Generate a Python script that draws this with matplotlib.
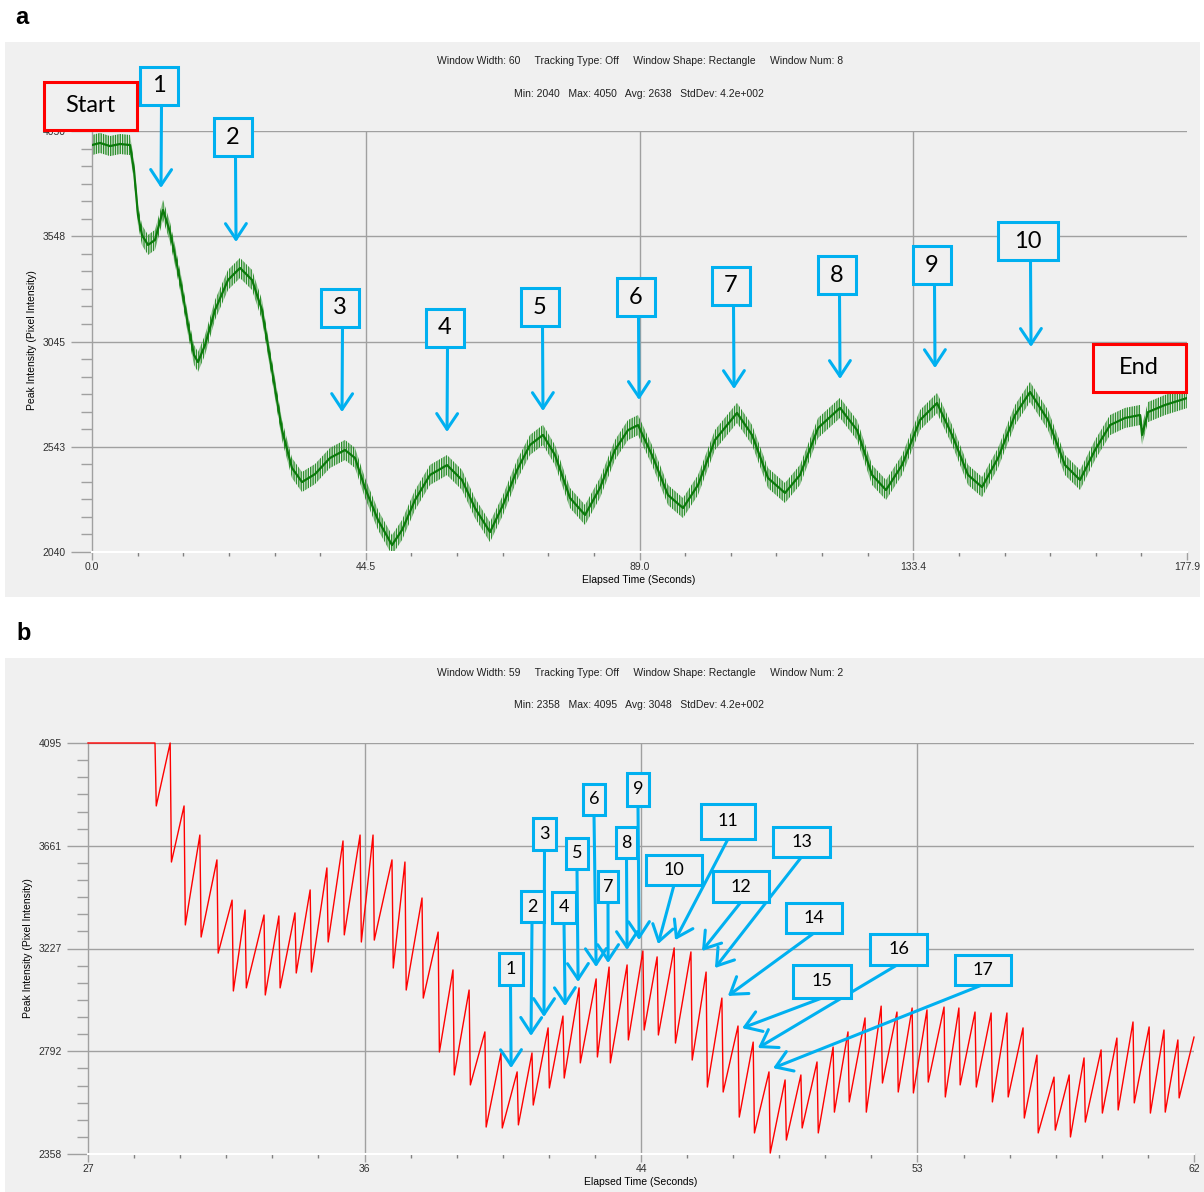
import matplotlib.pyplot as plt
from matplotlib.patches import Rectangle
from matplotlib.ticker import AutoMinorLocator

plt.rcParams['font.family'] = ['Liberation Sans', 'DejaVu Sans']

W, H = 1204, 1192
BG = '#f0f0f0'
GRID = '#a0a0a0'
BLUE = '#00b0f0'

# ---- panel a : green trace (centre of the noisy band) ----
green_t = [0.0, 1.30, 2.92, 4.55, 6.17, 6.82, 7.47, 8.12, 9.10, 10.24, 11.54, 12.67,
           13.65, 14.62, 15.60, 16.57, 17.22, 18.36, 19.98, 22.10, 24.05, 26.00, 27.62,
           29.24, 30.87, 32.49, 34.12, 36.23, 38.67, 41.10, 42.73, 44.35, 46.47, 48.74,
           50.37, 52.48, 54.92, 57.68, 60.11, 62.22, 64.66, 66.77, 69.05, 71.16, 73.27,
           75.22, 77.66, 80.10, 82.53, 84.97, 87.08, 88.71, 90.98, 93.58, 96.02, 98.46,
           101.22, 104.79, 107.23, 109.83, 112.59, 115.03, 117.96, 121.53, 124.29, 126.73,
           129.00, 131.60, 134.53, 137.29, 139.73, 142.32, 144.60, 147.20, 149.96, 152.40,
           155.32, 158.08, 160.52, 162.96, 165.40, 167.83, 170.27, 170.60, 171.57, 174.33,
           177.90]
green_v = [3983, 3993, 3978, 3988, 3983, 3864, 3649, 3553, 3506, 3530, 3673, 3568,
           3434, 3291, 3124, 2981, 2947, 3028, 3195, 3339, 3396, 3339, 3195,
           2909, 2622, 2441, 2374, 2412, 2489, 2527, 2489, 2346, 2193, 2073,
           2145, 2288, 2408, 2455, 2384, 2250, 2135, 2264, 2431, 2551, 2599,
           2503, 2298, 2217, 2346, 2527, 2622, 2646, 2503, 2312, 2250, 2360,
           2575, 2704, 2599, 2393, 2322, 2408, 2632, 2728, 2622, 2408,
           2336, 2455, 2670, 2751, 2599, 2408, 2350, 2489, 2694, 2804,
           2670, 2455, 2384, 2527, 2646, 2680, 2694, 2599, 2708, 2742,
           2775]
green_noise = 48  # half height of the noise band (intensity units)

a_xticks = [0, 44.475, 88.95, 133.425, 177.9]
a_xlabels = ['0.0', '44.5', '89.0', '133.4', '177.9']
a_yticks = [2040, 2542.5, 3045, 3547.5, 4050]
a_ylabels = ['2040', '2543', '3045', '3548', '4050']

# callouts a: label, arrow tip (time, intensity)
a_labels = ['1', '2', '3', '4', '5', '6', '7', '8', '9', '10']
a_tips_t = [11.21, 23.40, 40.62, 57.68, 73.27, 88.87, 104.31, 121.53, 136.96, 152.56]
a_tips_v = [3778, 3520, 2708, 2613, 2713, 2766, 2818, 2866, 2918, 3019]

# ---- panel b : red sawtooth (peak time, peak value, value right after the drop) ----
red_peak_t = [29.02, 29.50, 29.94, 30.44, 30.98, 31.46, 31.87, 32.47, 32.94, 33.45,
              33.93, 34.46, 34.97, 35.51, 35.92, 36.52, 36.93, 37.47, 37.98, 38.45,
              38.96, 39.46, 39.97, 40.48, 40.95, 41.46, 41.93, 42.44, 42.98, 43.39,
              43.96, 44.46, 44.91, 45.45, 45.98, 46.46, 46.96, 47.47, 47.95, 48.45,
              48.96, 49.46, 49.97, 50.48, 50.95, 51.49, 52.00, 52.50, 52.98, 53.45,
              53.99, 54.46, 54.97, 55.48, 55.98, 56.49, 56.93, 57.47, 57.95, 58.42,
              58.96, 59.46, 59.97, 60.48, 60.95, 61.39]
red_peak_v = [4095, 4095, 3829, 3706, 3601, 3431, 3389, 3368, 3364, 3377,
              3474, 3567, 3681, 3706, 3706, 3601, 3592, 3440, 3296, 3136,
              3051, 2874, 2785, 2705, 2785, 2891, 2941, 3060, 3098, 3148,
              3157, 3216, 3191, 3229, 3212, 3127, 3017, 2899, 2831, 2705,
              2671, 2692, 2747, 2810, 2874, 2933, 2983, 2958, 2975, 2967,
              2979, 2975, 2958, 2954, 2954, 2891, 2776, 2683, 2692, 2764,
              2798, 2848, 2916, 2895, 2882, 2840]
red_trough_v = [3829, 3592, 3326, 3275, 3207, 3047, 3060, 3030, 3060, 3123,
                3127, 3254, 3284, 3254, 3262, 3144, 3051, 3017, 2789, 2692,
                2650, 2472, 2468, 2481, 2565, 2637, 2679, 2743, 2768, 2743,
                2840, 2882, 2861, 2827, 2755, 2641, 2620, 2514, 2447, 2362,
                2417, 2468, 2447, 2535, 2578, 2535, 2658, 2620, 2616, 2662,
                2599, 2650, 2641, 2578, 2599, 2510, 2447, 2459, 2430, 2493,
                2531, 2544, 2574, 2531, 2535, 2595]
red_start = (26.9, 4095)
red_end = (61.9, 2852)

b_xticks = [26.9, 35.65, 44.4, 53.15, 61.9]
b_xlabels = ['27', '36', '44', '53', '62']
b_yticks = [2358, 2792.25, 3226.5, 3660.75, 4095]
b_ylabels = ['2358', '2792', '3227', '3661', '4095']

b_labels = [str(i) for i in range(1, 18)]
b_tips_t = [40.29, 40.92, 41.33, 42.00, 42.41, 42.98, 43.36, 43.96, 44.34,
            44.94, 45.48, 46.33, 46.74, 47.15, 47.60, 48.10, 48.58]
b_tips_v = [2721, 2857, 2937, 2983, 3085, 3148, 3165, 3220, 3262,
            3245, 3262, 3216, 3144, 3026, 2890, 2806, 2721]

fig = plt.figure(figsize=(W / 100, H / 100), dpi=100)


def px(x, y):
    return x / W, 1 - y / H


# grey panels
fig.add_artist(Rectangle(px(5, 597), 1195 / W, 555 / H, transform=fig.transFigure,
                         fc=BG, ec='none', zorder=-5))
fig.add_artist(Rectangle(px(5, 1192), 1199 / W, 534 / H, transform=fig.transFigure,
                         fc=BG, ec='none', zorder=-5))
fig.text(*px(22, 18), 'a', fontsize=17, fontweight='bold', ha='center', va='center')
fig.text(*px(24, 634), 'b', fontsize=17, fontweight='bold', ha='center', va='center')


def style_axes(ax, xt, xl, yt, yl):
    ax.set_facecolor(BG)
    ax.set_xticks(xt)
    ax.set_xticklabels(xl)
    ax.set_yticks(yt)
    ax.set_yticklabels(yl)
    ax.set_xlim(xt[0], xt[-1])
    ax.set_ylim(yt[0], yt[-1])
    ax.xaxis.set_minor_locator(AutoMinorLocator(6))
    ax.yaxis.set_minor_locator(AutoMinorLocator(6))
    for s in ['top', 'right']:
        ax.spines[s].set_visible(False)
    ax.spines['left'].set_color(GRID)
    ax.spines['left'].set_linewidth(1)
    ax.spines['bottom'].set_color('white')
    ax.spines['bottom'].set_linewidth(1.5)
    ax.tick_params(axis='y', which='major', length=15, width=1, color=GRID, pad=4,
                   labelsize=7.5, labelcolor='#303030')
    ax.tick_params(axis='y', which='minor', length=8, width=1, color=GRID)
    ax.tick_params(axis='x', which='major', length=6, width=1, color=GRID, pad=1.5,
                   labelsize=7.5, labelcolor='#303030')
    ax.tick_params(axis='x', which='minor', length=3, width=1, color='#808080')
    for y in yt[1:]:
        ax.axhline(y, color=GRID, lw=1, zorder=1)
    for x in xt[1:-1]:
        ax.axvline(x, color=GRID, lw=1, zorder=1)


def callout(ax, label, box, tip, start=None, color=BLUE, fs=17, lw=2.2):
    cx, cy, bw, bh = box
    fig.add_artist(Rectangle(px(cx - bw / 2, cy + bh / 2), bw / W, bh / H,
                             transform=fig.transFigure, fc=BG, ec=color, lw=lw, zorder=6))
    fig.text(*px(cx, cy), label, ha='center', va='center', fontsize=fs,
             family=['Lato', 'DejaVu Sans'], zorder=7)
    if tip is None:
        return
    if start is None:
        start = (cx, cy + bh / 2)
    ax.annotate('', xy=tip, xycoords='data', xytext=px(*start),
                textcoords='figure fraction', annotation_clip=False,
                arrowprops=dict(arrowstyle='->,head_length=0.45,head_width=0.3',
                                mutation_scale=25, color=color, lw=lw,
                                shrinkA=0, shrinkB=0))


# ---------------- panel a ----------------
axa = fig.add_axes([92 / W, 1 - 552 / H, (1187 - 92) / W, (552 - 131) / H])
style_axes(axa, a_xticks, a_xlabels, a_yticks, a_ylabels)
lo = [v - green_noise for v in green_v]
hi = [v + green_noise for v in green_v]
axa.fill_between(green_t, lo, hi, facecolor='none', edgecolor='#2c8f2c',
                 hatch='|||||||', linewidth=0, zorder=2)
axa.plot(green_t, green_v, color='#0b7a0b', lw=1.6, zorder=3)

fig.text(*px(640, 61), 'Window Width: 60     Tracking Type: Off     Window Shape: Rectangle     Window Num: 8',
         ha='center', va='center', fontsize=7.5, color='#202020')
fig.text(*px(639, 94), 'Min: 2040   Max: 4050   Avg: 2638   StdDev: 4.2e+002',
         ha='center', va='center', fontsize=7.5, color='#202020')
fig.text(*px(639, 580), 'Elapsed Time (Seconds)', ha='center', va='center', fontsize=7.5)
fig.text(*px(32, 340), 'Peak Intensity (Pixel Intensity)', rotation=90,
         ha='center', va='center', fontsize=7.5)

a_boxes = [(159, 86, 38, 38), (233, 137, 38, 38), (340, 308, 38, 38), (445, 328, 38, 38),
           (540, 307, 38, 38), (636, 297, 38, 38), (731, 286, 38, 38), (837, 275, 38, 38),
           (932, 265, 38, 38), (1028, 241, 60, 38)]
for lab, box, t, v in zip(a_labels, a_boxes, a_tips_t, a_tips_v):
    callout(axa, lab, box, (t, v), start=(box[0] + 2.5, box[1] + box[3] / 2))
callout(axa, 'Start', (90, 106, 93, 47), None, color='#ff0000')
callout(axa, 'End', (1139, 368, 93, 47), None, color='#ff0000')

# ---------------- panel b ----------------
axb = fig.add_axes([88 / W, 1 - 1154 / H, (1194 - 88) / W, (1154 - 743) / H])
style_axes(axb, b_xticks, b_xlabels, b_yticks, b_ylabels)
rt, rv = [red_start[0]], [red_start[1]]
for t, p, q in zip(red_peak_t, red_peak_v, red_trough_v):
    rt += [t, t + 0.04]
    rv += [p, q]
rt.append(red_end[0])
rv.append(red_end[1])
axb.plot(rt, rv, color='#ff0000', lw=1, zorder=3, clip_on=False)

fig.text(*px(640, 673), 'Window Width: 59     Tracking Type: Off     Window Shape: Rectangle     Window Num: 2',
         ha='center', va='center', fontsize=7.5, color='#202020')
fig.text(*px(639, 705), 'Min: 2358   Max: 4095   Avg: 3048   StdDev: 4.2e+002',
         ha='center', va='center', fontsize=7.5, color='#202020')
fig.text(*px(641, 1182), 'Elapsed Time (Seconds)', ha='center', va='center', fontsize=7.5)
fig.text(*px(28, 948), 'Peak Intensity (Pixel Intensity)', rotation=90,
         ha='center', va='center', fontsize=7.5)

b_boxes = [(510.5, 969, 24, 32), (532, 906.5, 23, 31), (544.5, 834, 23, 32),
           (564, 907.5, 24, 31), (577, 853.5, 22, 31), (594, 799.5, 22, 31),
           (608, 886.5, 20, 31), (626.5, 842.5, 21, 31), (638, 789.5, 22, 33),
           (674, 870, 56, 30), (728, 821.5, 54, 35), (741, 886.5, 56, 31),
           (801.5, 842, 57, 30), (814, 918, 56, 30), (822, 981.5, 58, 33),
           (898.5, 949.5, 57, 31), (983, 970, 56, 30)]
b_starts = [None] * 14 + [(822, 998), (897, 965), (982, 985)]
for lab, box, t, v, st in zip(b_labels, b_boxes, b_tips_t, b_tips_v, b_starts):
    callout(axb, lab, box, (t, v), start=st, fs=13, lw=2.2)

fig.savefig('out.png', dpi=100, facecolor='white')
